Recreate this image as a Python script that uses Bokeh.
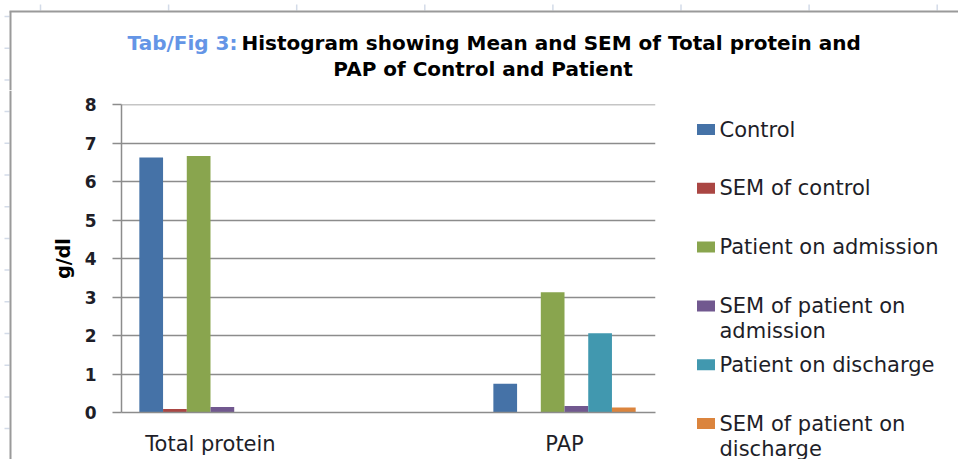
from bokeh.plotting import figure
from bokeh.layouts import column, row
from bokeh.models import Range1d, FixedTicker, ColumnDataSource
from bokeh.transform import dodge
from bokeh.core.properties import value
from bokeh.embed import file_html
from bokeh.resources import INLINE

# ---------------- data ----------------
categories = ["Total protein", "PAP"]
series_names = ["Control", "SEM of control", "Patient on admission",
                "SEM of patient on admission", "Patient on discharge",
                "SEM of patient on discharge"]
control = [6.63, 0.75]
sem_control = [0.09, 0.0]
patient_admission = [6.67, 3.13]
sem_patient_admission = [0.14, 0.17]
patient_discharge = [0.0, 2.06]
sem_patient_discharge = [0.0, 0.13]
y_ticks = [0, 1, 2, 3, 4, 5, 6, 7, 8]
title_prefix = "Tab/Fig 3:"
title_line1 = "Histogram  showing Mean and SEM of Total protein and"
title_line2 = "PAP  of Control and Patient"
legend_lines = [["Control"], ["SEM of control"], ["Patient on admission"],
                ["SEM of patient on", "admission"], ["Patient on discharge"],
                ["SEM of patient on", "discharge"]]

series_values = [control, sem_control, patient_admission,
                 sem_patient_admission, patient_discharge, sem_patient_discharge]
colors = ["#4572A7", "#AA4643", "#89A54E", "#71588F", "#4198AF", "#DB843D"]

GRID = "#8c8c8c"
TEXT = "#1e1e28"
BORDER = "#9a9a9a"
SHEET = "#d3dbe8"

W_TOTAL = 958
TITLE_H = 90
ROW_H = 369


def blank_fig(w, h):
    f = figure(width=w, height=h, output_backend="svg", toolbar_location=None,
               x_range=Range1d(0, w), y_range=Range1d(h, 0),
               min_border=0, min_border_left=0, min_border_right=0,
               min_border_top=0, min_border_bottom=0)
    f.axis.visible = False
    f.grid.visible = False
    f.outline_line_color = None
    f.background_fill_color = "white"
    f.border_fill_color = "white"
    return f


# worksheet tick marks (decoration around the chart object)
top_ticks = [40 + i * 128.1 for i in range(8)]
left_ticks = [16 + i * 31.7 for i in range(15)]

# ---------------- title figure ----------------
tf = blank_fig(W_TOTAL, TITLE_H)
tf.segment(x0=top_ticks, y0=[4] * len(top_ticks), x1=top_ticks,
           y1=[10] * len(top_ticks), line_color=SHEET, line_width=1.5)
lt_top = [y for y in left_ticks if y < TITLE_H]
tf.segment(x0=[4] * len(lt_top), y0=lt_top, x1=[9] * len(lt_top), y1=lt_top,
           line_color=SHEET, line_width=1.5)
tf.segment(x0=[9, 10], y0=[11, 11], x1=[W_TOTAL, 10], y1=[11, TITLE_H],
           line_color=BORDER, line_width=2)
tf.text(x=[237], y=[42], text=[title_prefix], text_align="right",
        text_baseline="middle", text_font=value("DejaVu Sans"),
        text_font_style="bold", text_font_size="20px", text_color="#6495E6")
tf.text(x=[241], y=[42], text=[title_line1], text_align="left",
        text_baseline="middle", text_font=value("DejaVu Sans"),
        text_font_style="bold", text_font_size="20px", text_color="black")
tf.text(x=[486], y=[68], text=[title_line2], text_align="center",
        text_baseline="middle", text_font=value("DejaVu Sans"),
        text_font_style="bold", text_font_size="20px", text_color="black")

# ---------------- left strip (chart border) ----------------
sf = blank_fig(12, ROW_H)
lt_bot = [y - TITLE_H for y in left_ticks if y >= TITLE_H]
sf.segment(x0=[4] * len(lt_bot), y0=lt_bot, x1=[9] * len(lt_bot), y1=lt_bot,
           line_color=SHEET, line_width=1.5)
sf.segment(x0=[10], y0=[0], x1=[10], y1=[ROW_H], line_color=BORDER, line_width=2)

# ---------------- main plot ----------------
p = figure(width=668, height=ROW_H, output_backend="svg", toolbar_location=None,
           x_range=Range1d(-0.2514, 1.257), y_range=Range1d(0, 8.01),
           min_border_left=109, min_border_right=25, min_border_top=14,
           min_border_bottom=47)
p.outline_line_color = None
p.background_fill_color = "white"
p.border_fill_color = "white"

src = {"x": list(range(len(categories)))}
for i, vals in enumerate(series_values):
    src["s%d" % i] = vals
source = ColumnDataSource(src)

bw = 0.067
for i, c in enumerate(colors):
    off = (i - 2.5) * bw
    p.vbar(x=dodge("x", off, range=p.x_range), top="s%d" % i, width=bw,
           bottom=0, source=source, fill_color=c, line_color=None)

p.xgrid.visible = False
p.ygrid.grid_line_color = GRID
p.ygrid.grid_line_width = 1.5
p.yaxis.ticker = FixedTicker(ticks=y_ticks)
p.xaxis.ticker = FixedTicker(ticks=list(range(len(categories))))
p.xaxis.major_label_overrides = {i: c for i, c in enumerate(categories)}

p.xaxis.axis_line_color = GRID
p.xaxis.axis_line_width = 1.5
p.xaxis.major_tick_line_color = None
p.xaxis.minor_tick_line_color = None
p.xaxis.major_label_text_font = "DejaVu Sans"
p.xaxis.major_label_text_font_size = "21px"
p.xaxis.major_label_text_color = TEXT
p.xaxis.major_label_standoff = 13

p.yaxis.axis_line_color = GRID
p.yaxis.axis_line_width = 1.5
p.yaxis.major_tick_line_color = GRID
p.yaxis.major_tick_line_width = 1.5
p.yaxis.major_tick_out = 9
p.yaxis.major_tick_in = 0
p.yaxis.minor_tick_line_color = None
p.yaxis.major_label_text_font = "DejaVu Sans"
p.yaxis.major_label_text_font_style = "bold"
p.yaxis.major_label_text_font_size = "17px"
p.yaxis.major_label_text_color = TEXT
p.yaxis.major_label_standoff = 16
p.yaxis.axis_label = "g/dl"
p.yaxis.axis_label_text_font = "DejaVu Sans"
p.yaxis.axis_label_text_font_style = "bold"
p.yaxis.axis_label_text_font_size = "19px"
p.yaxis.axis_label_text_color = "black"
p.yaxis.axis_label_standoff = 8

# ---------------- legend figure ----------------
lf = blank_fig(W_TOTAL - 12 - 668, ROW_H)
leg_top = 39
leg_step = 58.8
sq_y, tx, ty, ttxt = [], [], [], []
for i, lines in enumerate(legend_lines):
    cy = leg_top + i * leg_step
    sq_y.append(cy)
    for j, t in enumerate(lines):
        ty.append(cy + j * 25)
        tx.append(39)
        ttxt.append(t)
lf.rect(x=[25.5] * len(colors), y=sq_y, width=18, height=11, fill_color=colors,
        line_color=None)
lf.text(x=tx, y=ty, text=ttxt, text_align="left", text_baseline="middle",
        text_font=value("DejaVu Sans"), text_font_size="21px", text_color=TEXT)

layout = column(tf, row(column(sf), p, column(lf)))

open("out.html", "w").write(file_html(layout, INLINE))
